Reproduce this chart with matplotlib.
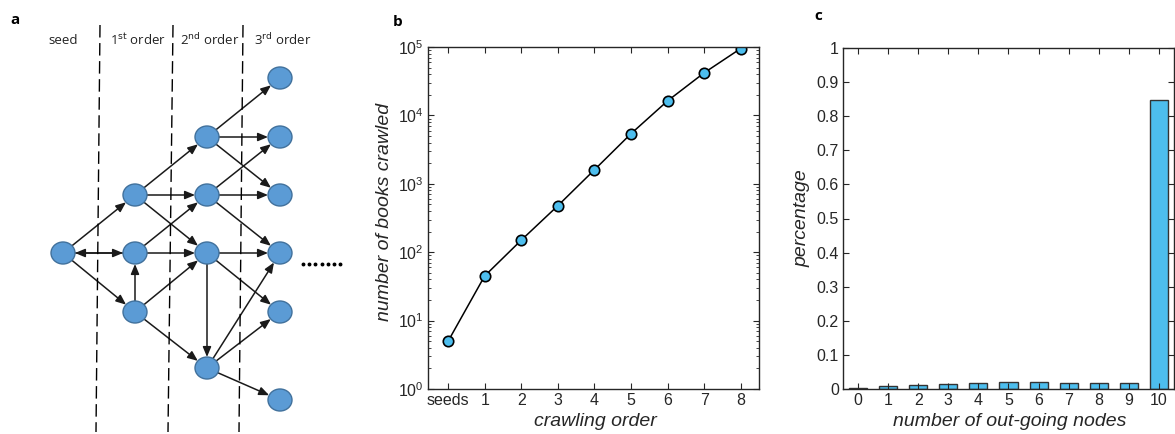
import numpy as np
import matplotlib
matplotlib.use("Agg")
import matplotlib.pyplot as plt
from matplotlib.patches import Ellipse, FancyArrowPatch
from matplotlib.ticker import LogLocator, NullFormatter

plt.rcParams["font.family"] = ["Liberation Sans", "DejaVu Sans"]

# panel b data
orders = ["seeds", "1", "2", "3", "4", "5", "6", "7", "8"]
books = [5.0, 45, 150, 478, 1600, 5400, 16300, 41900, 95000]

# panel c data
outgoing = [0, 1, 2, 3, 4, 5, 6, 7, 8, 9, 10]
share = [0.004, 0.009, 0.013, 0.016, 0.019, 0.021, 0.020, 0.019, 0.019, 0.018, 0.847]

# panel a diagram (pixel layout of the crawl tree)
col_x = [63, 135, 207, 280]
col_names = ["seed", "1$^{\\rm st}$ order", "2$^{\\rm nd}$ order", "3$^{\\rm rd}$ order"]
nodes = {
    "s": (0, 253),
    "1a": (1, 195), "1b": (1, 253), "1c": (1, 312),
    "2a": (2, 137), "2b": (2, 195), "2c": (2, 253), "2d": (2, 368),
    "3a": (3, 78), "3b": (3, 137), "3c": (3, 195), "3d": (3, 253), "3e": (3, 312), "3f": (3, 400),
}
edges = [
    ("s", "1a"), ("s", "1b"), ("1b", "s"), ("s", "1c"), ("1c", "1b"),
    ("1a", "2a"), ("1a", "2b"), ("1a", "2c"), ("1b", "2b"), ("1b", "2c"),
    ("1c", "2c"), ("1c", "2d"),
    ("2a", "3a"), ("2a", "3b"), ("2a", "3c"),
    ("2b", "3b"), ("2b", "3c"), ("2b", "3d"),
    ("2c", "3d"), ("2c", "3e"), ("2c", "2d"),
    ("2d", "3d"), ("2d", "3e"), ("2d", "3f"),
]
dash_top = [100, 173, 243]
dash_bot = [96, 168, 239]

W, H = 1175, 434
fig = plt.figure(figsize=(W / 100, H / 100), dpi=100)

# ---- panel a
axa = fig.add_axes([0, 0, 350 / W, 1])
axa.set_xlim(0, 350)
axa.set_ylim(H, 0)
axa.axis("off")
rx, ry = 12, 11
for x0, x1 in zip(dash_top, dash_bot):
    axa.plot([x0, x1], [25, 432], color="black", lw=1, ls=(0, (9, 4)))
for name, cx in zip(col_names, col_x):
    axa.text(cx + (0 if name == "seed" else 3), 40, name, ha="center", va="center", fontsize=9.5,
             family=["Open Sans", "DejaVu Sans"], color="#222222")
pos = {k: (col_x[c], y) for k, (c, y) in nodes.items()}
for a, b in edges:
    (xa, ya), (xb, yb) = pos[a], pos[b]
    d = np.hypot(xb - xa, yb - ya)
    ux, uy = (xb - xa) / d, (yb - ya) / d
    ta = 1 / np.hypot(ux / rx, uy / ry)
    p0 = (xa + ux * ta, ya + uy * ta)
    p1 = (xb - ux * ta, yb - uy * ta)
    axa.add_patch(FancyArrowPatch(p0, p1, arrowstyle="-|>,head_length=0.6,head_width=0.25",
                                  mutation_scale=10, color="#1a1a1a", lw=1.1,
                                  shrinkA=0, shrinkB=0))
for k, (x, y) in pos.items():
    axa.add_patch(Ellipse((x, y), 2 * rx, 2 * ry, facecolor="#5B9BD5", edgecolor="#41719C",
                          lw=1, zorder=5))
axa.plot(np.linspace(303, 340, 7), [264] * 7, ls="none", marker="o", ms=1.8, color="black")
fig.text(15 / W, 1 - 20 / H, "a", fontsize=11, fontweight="bold", ha="center", va="center",
         family=["Open Sans", "DejaVu Sans"])

tick_color = "#262626"
lab_size = 14
tick_size = 11.5

# ---- panel b
axb = fig.add_axes([428 / W, 45 / H, 331 / W, 342 / H])
xs = np.arange(len(orders))
axb.plot(xs, books, color="black", lw=1.1, marker="o", ms=7.5, mfc="#4DBEEE", mec="black", mew=1.2)
axb.set_yscale("log")
axb.set_ylim(1, 1e5)
axb.set_xlim(-0.55, 8.5)
axb.set_xticks(xs)
axb.set_xticklabels(orders)
axb.set_yticks([1, 10, 100, 1e3, 1e4, 1e5])
axb.yaxis.set_minor_locator(LogLocator(base=10, subs=np.arange(2, 10), numticks=20))
axb.yaxis.set_minor_formatter(NullFormatter())
fig.text(385 / W, 1 - 212 / H, "number of books crawled", rotation=90, style="italic",
         fontsize=lab_size, ha="center", va="center", color=tick_color)
fig.text(595 / W, 1 - 421 / H, "crawling order", style="italic", fontsize=lab_size,
         ha="center", va="center", color=tick_color)
fig.text(398 / W, 1 - 22 / H, "b", fontsize=11, fontweight="bold", ha="center", va="center",
         family=["Open Sans", "DejaVu Sans"])

# ---- panel c
axc = fig.add_axes([843 / W, 45 / H, 331 / W, 341 / H])
axc.bar(outgoing, share, width=0.6, color="#4DBEEE", edgecolor="#333333", lw=1)
axc.set_xlim(-0.5, 10.5)
axc.set_ylim(0, 1)
axc.set_xticks(outgoing)
axc.set_yticks(np.arange(0, 1.01, 0.1))
axc.set_yticklabels(["0", "0.1", "0.2", "0.3", "0.4", "0.5", "0.6", "0.7", "0.8", "0.9", "1"])
fig.text(802 / W, 1 - 218 / H, "percentage", rotation=90, style="italic",
         fontsize=lab_size, ha="center", va="center", color=tick_color)
fig.text(1010 / W, 1 - 421 / H, "number of out-going nodes", style="italic", fontsize=lab_size,
         ha="center", va="center", color=tick_color)
fig.text(818 / W, 1 - 16 / H, "c", fontsize=11, fontweight="bold", ha="center", va="center",
         family=["Open Sans", "DejaVu Sans"])

for ax in (axb, axc):
    ax.tick_params(which="both", direction="in", top=True, right=True, labelsize=tick_size,
                   colors=tick_color, labelcolor=tick_color)
    ax.tick_params(which="major", length=4, width=0.8)
    ax.tick_params(which="minor", length=2, width=0.6)
    ax.tick_params(axis="x", pad=3)
    ax.tick_params(axis="y", pad=3)
    for sp in ax.spines.values():
        sp.set_color(tick_color)
        sp.set_linewidth(1)

fig.savefig("out.png", dpi=100)
